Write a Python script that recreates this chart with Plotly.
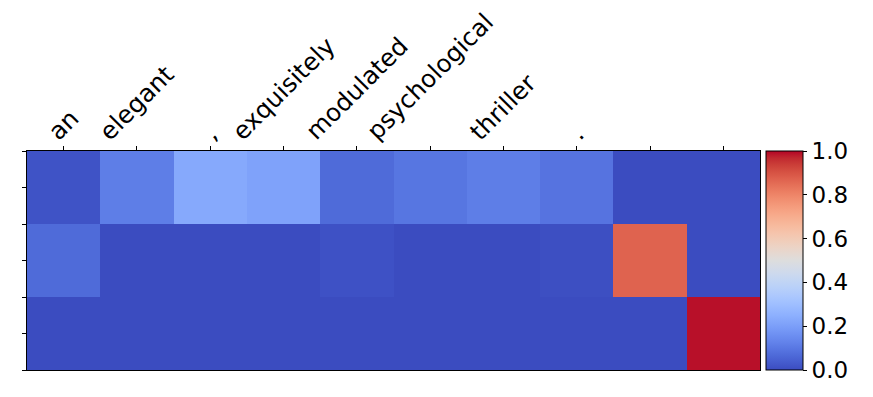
import plotly.graph_objects as go

tokens = ["an", "elegant", ",", "exquisitely", "modulated", "psychological", "thriller", ".", "", ""]
row0 = [0.015, 0.115, 0.23, 0.21, 0.07, 0.095, 0.115, 0.09, 0.0, 0.0]
row1 = [0.07, 0.0, 0.0, 0.0, 0.012, 0.0, 0.0, 0.006, 0.87, 0.0]
row2 = [0.0, 0.0, 0.0, 0.0, 0.0, 0.0, 0.0, 0.0, 0.0, 0.99]
z = [row0, row1, row2]

coolwarm = [
    [0.0, "rgb(59,76,192)"], [0.03125, "rgb(68,90,204)"], [0.0625, "rgb(77,104,215)"],
    [0.09375, "rgb(87,117,225)"], [0.125, "rgb(98,130,234)"], [0.15625, "rgb(108,142,241)"],
    [0.1875, "rgb(119,154,247)"], [0.21875, "rgb(130,165,251)"], [0.25, "rgb(141,176,254)"],
    [0.28125, "rgb(152,185,255)"], [0.3125, "rgb(163,194,255)"], [0.34375, "rgb(174,201,253)"],
    [0.375, "rgb(184,208,249)"], [0.40625, "rgb(194,213,244)"], [0.4375, "rgb(204,217,238)"],
    [0.46875, "rgb(213,219,230)"], [0.5, "rgb(221,221,221)"], [0.53125, "rgb(229,216,209)"],
    [0.5625, "rgb(236,211,197)"], [0.59375, "rgb(241,204,184)"], [0.625, "rgb(245,196,172)"],
    [0.65625, "rgb(247,187,159)"], [0.6875, "rgb(247,177,147)"], [0.71875, "rgb(247,166,135)"],
    [0.75, "rgb(244,154,123)"], [0.78125, "rgb(241,141,111)"], [0.8125, "rgb(236,127,99)"],
    [0.84375, "rgb(229,112,88)"], [0.875, "rgb(222,96,77)"], [0.90625, "rgb(213,80,66)"],
    [0.9375, "rgb(203,62,56)"], [0.96875, "rgb(192,40,47)"], [1.0, "rgb(180,4,38)"],
]

W, H = 873, 397
OFF = 8  # page body margin
L, R, T, B = 27 - OFF, 760 - OFF, 151 - OFF, 370 - OFF

fig = go.Figure(go.Heatmap(
    z=z,
    x=list(range(len(tokens))),
    y=[0, 1, 2],
    zmin=0, zmax=1,
    colorscale=coolwarm,
    colorbar=dict(
        thickness=37, thicknessmode="pixels",
        len=1, lenmode="fraction", y=0.5, yanchor="middle",
        x=(766 - 27) / (760 - 27), xanchor="left", xpad=0, ypad=0,
        outlinewidth=1, outlinecolor="black",
        ticks="outside", ticklen=4, tickcolor="black",
        tickvals=[0, 0.2, 0.4, 0.6, 0.8, 1.0],
        tickformat=".1f",
        tickfont=dict(size=23, color="black"),
    ),
))

# token labels above the columns (rotated, centred on each tick like the original)
for i, tok in enumerate(tokens):
    if tok:
        fig.add_annotation(
            x=i, xref="x", y=1, yref="paper",
            text=tok, showarrow=False, textangle=-45,
            xanchor="center", yanchor="bottom", yshift=4, borderpad=0,
            font=dict(family="DejaVu Sans", size=24.5, color="black"),
        )

fig.update_layout(
    width=W, height=H,
    margin=dict(l=L, r=W - R, t=T, b=H - B, pad=0),
    paper_bgcolor="white", plot_bgcolor="white",
    font=dict(family="DejaVu Sans", size=22, color="black"),
    xaxis=dict(
        side="top",
        tickmode="array",
        tickvals=list(range(len(tokens))),
        ticktext=[""] * len(tokens),
        ticks="outside", ticklen=4, tickcolor="black",
        range=[-0.5, len(tokens) - 0.5],
        showgrid=False, zeroline=False, automargin=False,
        showline=True, mirror=True, linecolor="black", linewidth=1,
    ),
    yaxis=dict(
        tickmode="array",
        tickvals=[-0.5, 0, 0.5, 1, 1.5, 2, 2.5],
        ticktext=[""] * 7,
        ticks="outside", ticklen=4, tickcolor="black",
        range=[2.5, -0.5],
        showgrid=False, zeroline=False, automargin=False,
        showline=True, mirror=True, linecolor="black", linewidth=1,
    ),
)

fig.write_html("out.html")
